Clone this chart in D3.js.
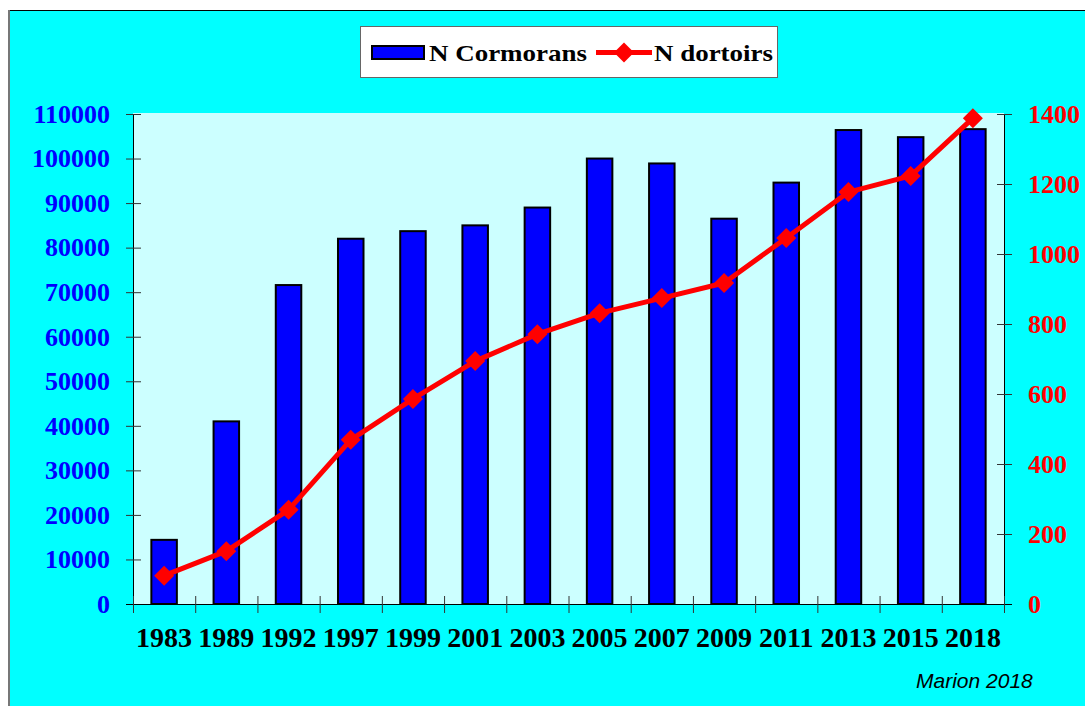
<!DOCTYPE html>
<html>
<head>
<meta charset="utf-8">
<script src="https://cdn.jsdelivr.net/npm/d3@7"></script>
<style>
  body { margin: 0; background: #fff; }
  svg { display: block; }
</style>
</head>
<body>
<div id="chart"></div>
<script>
var years = ['1983', '1989', '1992', '1997', '1999', '2001', '2003', '2005', '2007', '2009', '2011', '2013', '2015', '2018'];
var cormorans = [14400, 41000, 71600, 82000, 83700, 85000, 89000, 100000, 98900, 86500, 94600, 106400, 104800, 106600];
var dortoirs = [81, 151, 269, 469, 586, 694, 771, 831, 874, 917, 1046, 1177, 1223, 1388];
var leftTicks = [0, 10000, 20000, 30000, 40000, 50000, 60000, 70000, 80000, 90000, 100000, 110000];
var rightTicks = [0, 200, 400, 600, 800, 1000, 1200, 1400];

(function () {
    'use strict';

    var w = 1085, h = 706;
    var pLeft = 133, pRight = 1004, pTop = 114, pBottom = 604;
    var serif = "'Liberation Serif', 'Times New Roman', serif";

    var svg = d3.select('#chart').append('svg')
        .attr('width', w)
        .attr('height', h);

    // outer frame
    svg.append('rect')
        .attr('x', 8).attr('y', 10)
        .attr('width', w).attr('height', h)
        .attr('fill', '#00ffff');
    svg.append('line')
        .attr('x1', 8).attr('x2', w).attr('y1', 10.5).attr('y2', 10.5)
        .attr('stroke', '#000').attr('stroke-width', 1);
    svg.append('line')
        .attr('x1', 9).attr('x2', 9).attr('y1', 10).attr('y2', h)
        .attr('stroke', '#777').attr('stroke-width', 2);

    var x = d3.scaleBand().domain(years).range([pLeft, pRight]);
    var yL = d3.scaleLinear().domain([0, 110000]).range([pBottom, pTop]);
    var yR = d3.scaleLinear().domain([0, 1400]).range([pBottom, pTop]);

    // plot area
    svg.append('rect')
        .attr('x', pLeft).attr('y', pTop - 1)
        .attr('width', pRight - pLeft).attr('height', pBottom - pTop + 1)
        .attr('fill', '#ccffff');

    // bars
    var bw = x.bandwidth() * 0.41;
    svg.append('g').selectAll('rect')
        .data(years)
        .enter().append('rect')
        .attr('x', function (d) { return x(d) + (x.bandwidth() - bw) / 2; })
        .attr('y', function (d, i) { return yL(cormorans[i]); })
        .attr('width', bw)
        .attr('height', function (d, i) { return pBottom - yL(cormorans[i]); })
        .attr('fill', '#0000ff')
        .attr('stroke', '#000')
        .attr('stroke-width', 2);

    // left axis
    var gL = svg.append('g')
        .attr('transform', 'translate(' + pLeft + ',0)')
        .call(d3.axisLeft(yL).tickValues(leftTicks).tickSize(7).tickPadding(16).tickFormat(d3.format('d')));
    gL.selectAll('.tick line').attr('x2', 8).attr('x1', -7).attr('stroke', '#333');
    gL.select('.domain').attr('stroke', '#000').attr('d', 'M0.5,' + pTop + 'V' + pBottom);
    gL.selectAll('text')
        .attr('fill', '#0000ff')
        .style('font', 'bold 26px ' + serif);

    // right axis
    var gR = svg.append('g')
        .attr('transform', 'translate(' + pRight + ',0)')
        .call(d3.axisRight(yR).tickValues(rightTicks).tickSize(8).tickPadding(16).tickFormat(d3.format('d')));
    gR.selectAll('.tick line').attr('x1', -7).attr('stroke', '#333');
    gR.select('.domain').attr('stroke', '#000').attr('d', 'M0.5,' + pTop + 'V' + pBottom);
    gR.selectAll('text')
        .attr('fill', '#ff0000')
        .style('font', 'bold 26px ' + serif);

    // x axis: ticks on category boundaries
    var gX = svg.append('g')
        .attr('transform', 'translate(0,' + pBottom + ')');
    gX.append('line')
        .attr('x1', pLeft - 7).attr('x2', pRight + 8)
        .attr('y1', 0.5).attr('y2', 0.5)
        .attr('stroke', '#000');
    gX.selectAll('.bound')
        .data(years.concat(['end']))
        .enter().append('line')
        .attr('x1', function (d) { return d === 'end' ? pRight + 0.5 : x(d) + 0.5; })
        .attr('x2', function (d) { return d === 'end' ? pRight + 0.5 : x(d) + 0.5; })
        .attr('y1', -8).attr('y2', 9)
        .attr('stroke', '#333');
    gX.selectAll('.lab')
        .data(years)
        .enter().append('text')
        .attr('x', function (d) { return x(d) + x.bandwidth() / 2; })
        .attr('y', 43)
        .attr('text-anchor', 'middle')
        .attr('fill', '#000')
        .style('font', 'bold 28px ' + serif)
        .text(function (d) { return d; });

    // line series
    var line = d3.line()
        .x(function (d, i) { return x(years[i]) + x.bandwidth() / 2; })
        .y(function (d) { return yR(d); });

    svg.append('path')
        .datum(dortoirs)
        .attr('d', line)
        .attr('fill', 'none')
        .attr('stroke', '#ff0000')
        .attr('stroke-width', 5)
        .attr('stroke-linejoin', 'round');

    var diamond = d3.symbol().type(d3.symbolSquare).size(200);
    svg.append('g').selectAll('path')
        .data(dortoirs)
        .enter().append('path')
        .attr('d', diamond)
        .attr('transform', function (d, i) {
            return 'translate(' + (x(years[i]) + x.bandwidth() / 2) + ',' + yR(d) + ') rotate(45)';
        })
        .attr('fill', '#ff0000');

    // legend
    var lg = svg.append('g');
    lg.append('rect')
        .attr('x', 360.5).attr('y', 26.5)
        .attr('width', 417).attr('height', 51)
        .attr('fill', '#fff')
        .attr('stroke', '#666');
    lg.append('rect')
        .attr('x', 372).attr('y', 46)
        .attr('width', 52).attr('height', 13)
        .attr('fill', '#0000ff')
        .attr('stroke', '#000')
        .attr('stroke-width', 2);
    lg.append('text')
        .attr('x', 429).attr('y', 61)
        .attr('textLength', 158)
        .attr('lengthAdjust', 'spacingAndGlyphs')
        .style('font', 'bold 24px ' + serif)
        .text('N Cormorans');
    lg.append('line')
        .attr('x1', 596).attr('x2', 652).attr('y1', 52.5).attr('y2', 52.5)
        .attr('stroke', '#ff0000').attr('stroke-width', 5);
    lg.append('path')
        .attr('d', diamond)
        .attr('transform', 'translate(624,52.5) rotate(45)')
        .attr('fill', '#ff0000');
    lg.append('text')
        .attr('x', 654).attr('y', 61)
        .attr('textLength', 119)
        .attr('lengthAdjust', 'spacingAndGlyphs')
        .style('font', 'bold 24px ' + serif)
        .text('N dortoirs');

    // credit
    svg.append('text')
        .attr('x', 916).attr('y', 688)
        .style('font', 'italic 21px "Liberation Sans", Arial, sans-serif')
        .text('Marion 2018');
})();
</script>
</body>
</html>
